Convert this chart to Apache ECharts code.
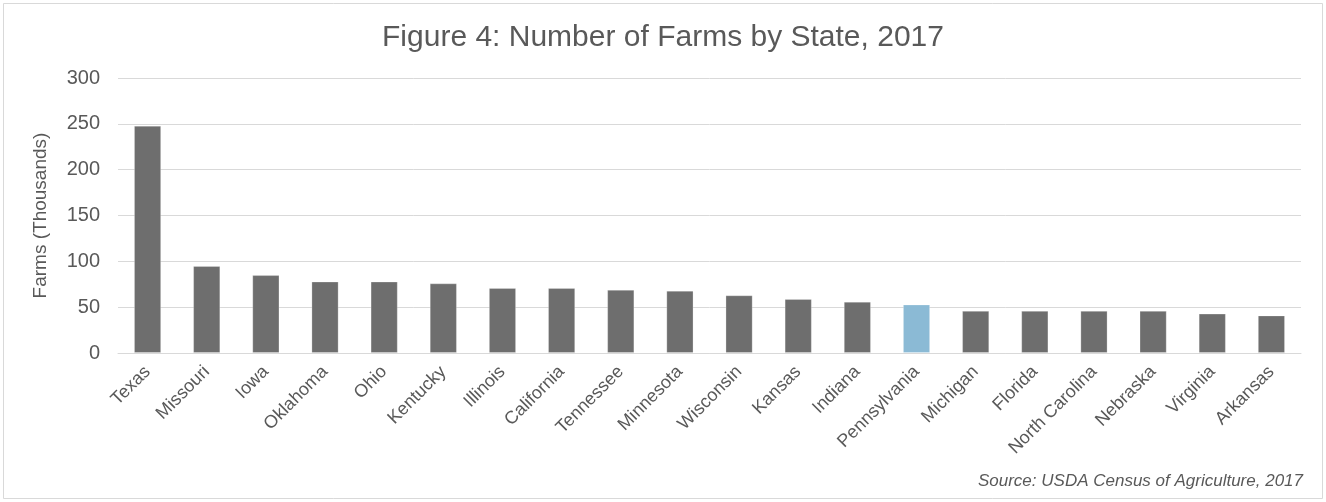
<!DOCTYPE html>
<html><head><meta charset="utf-8">
<script src="https://cdn.jsdelivr.net/npm/echarts@6/dist/echarts.min.js"></script>
<style>html,body{margin:0;padding:0;background:#fff}#c{width:1326px;height:502px}</style>
</head><body><div id="c"></div>
<script>
const states = ["Texas","Missouri","Iowa","Oklahoma","Ohio","Kentucky","Illinois","California","Tennessee","Minnesota","Wisconsin","Kansas","Indiana","Pennsylvania","Michigan","Florida","North Carolina","Nebraska","Virginia","Arkansas"];
const farms = [248,95,85,78,78,76,71,71,69,68,63,59,56,53,46,46,46,46,43,41];
const highlight = "Pennsylvania";
const yTicks = [0,50,100,150,200,250,300];

const font = "'Liberation Sans', Arial, sans-serif";
const chart = echarts.init(document.getElementById('c'), null, {renderer:'canvas'});
chart.setOption({
  animation:false,
  backgroundColor:'#fff',
  title:{text:'Figure 4: Number of Farms by State, 2017',left:'center',top:18,
    textStyle:{fontFamily:font,fontSize:30,fontWeight:'normal',color:'#595959'}},
  graphic:[
    {type:'rect',shape:{x:3.5,y:3.5,width:1319,height:495},style:{fill:'none',stroke:'#d9d9d9',lineWidth:1},z:-1},
    {type:'text',right:23,top:473,style:{text:'Source: USDA Census of Agriculture, 2017',fontFamily:font,fontSize:17,fontStyle:'italic',fill:'#595959'}}
  ],
  grid:{left:118,right:25,top:78,bottom:149},
  xAxis:{type:'category',data:states,
    axisLine:{show:true,lineStyle:{color:'#d9d9d9',width:1}},
    axisTick:{show:false},
    axisLabel:{rotate:45,interval:0,margin:16,fontFamily:font,fontSize:18,color:'#595959'}},
  yAxis:{type:'value',min:yTicks[0],max:yTicks[yTicks.length-1],interval:50,
    name:'Farms (Thousands)',nameLocation:'middle',nameGap:68,nameRotate:90,
    nameTextStyle:{fontFamily:font,fontSize:19,color:'#595959'},
    axisLine:{show:false},axisTick:{show:false},
    axisLabel:{margin:18,fontFamily:font,fontSize:20,color:'#595959'},
    splitLine:{lineStyle:{color:'#d9d9d9',width:1}}},
  series:[{type:'bar',barCategoryGap:'54%',
    data:farms.map((v,i)=>({value:v,itemStyle:{color:states[i]===highlight?'#8bbad5':'#6e6e6e'}})),
    itemStyle:{borderColor:'rgba(255,255,255,0.25)',borderWidth:1}}]
});
</script></body></html>
